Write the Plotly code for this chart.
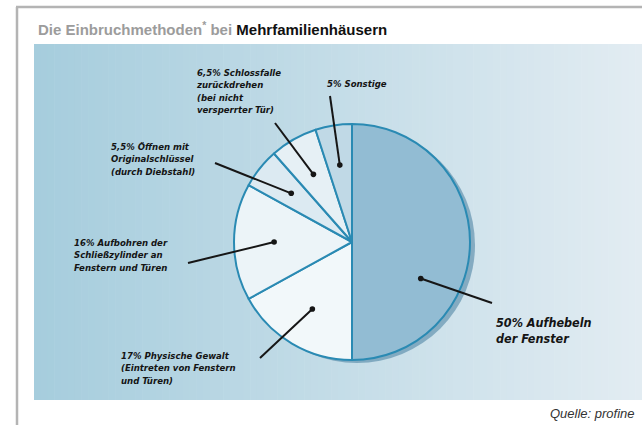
import math
import plotly.graph_objects as go

W, H = 642, 425

# ---- data ----
slice_names = ["Aufhebeln der Fenster", "Physische Gewalt", "Aufbohren der Schließzylinder",
               "Öffnen mit Originalschlüssel", "Schlossfalle zurückdrehen", "Sonstige"]
values = [50, 17, 16, 5.5, 6.5, 5]
label_lines = [
    ["50% Aufhebeln", "der Fenster"],
    ["17% Physische Gewalt", "(Eintreten von Fenstern", "und Türen)"],
    ["16% Aufbohren der", "Schließzylinder an", "Fenstern und Türen"],
    ["5,5% Öffnen mit", "Originalschlüssel", "(durch Diebstahl)"],
    ["6,5% Schlossfalle", "zurückdrehen", "(bei nicht", "versperrter Tür)"],
    ["5% Sonstige"],
]
title_grey = "Die Einbruchmethoden"
title_black = "Mehrfamilienhäusern"
source = "Quelle: profine"

# ---- style ----
slice_colors = ["#92bcd3", "#f2f8fa", "#ecf4f8", "#dceaf2", "#e6f0f5", "#c0d9e6"]
outline = "#2a8ab3"
cx, cy, R = 352, 242, 118          # pie centre / radius in px
dot_angle_shift = [28, 0, 0, 0, 0, 0]
dot_rfrac = 0.66
# label-side end of leader lines (px), first-line label anchors (px)
line_ends = [(492, 303), (260, 358), (188, 263), (215, 163), (275, 123), (330, 96)]
text_pos = [(494, 322), (119, 356), (72, 243), (109, 147), (194, 72), (325, 83)]
text_size = [12.5, 9.5, 9.5, 9.5, 9.5, 9.5]
LABEL_FONT = "DejaVu Sans Condensed, DejaVu Sans, Liberation Sans, sans-serif"

px = lambda x: x / W
py = lambda y: 1 - y / H

fig = go.Figure()
shapes = []
annotations = []

# frame
shapes.append(dict(type="line", xref="paper", yref="paper", x0=px(16), x1=px(642), y0=py(7), y1=py(7),
                   line=dict(color="#b4b4b4", width=2.5), layer="below"))
shapes.append(dict(type="line", xref="paper", yref="paper", x0=px(17), x1=px(17), y0=py(7), y1=py(425),
                   line=dict(color="#b4b4b4", width=2.5), layer="below"))

# gradient panel
x0p, x1p, y0p, y1p = 34, 642, 44, 400
c0 = (166, 205, 221)
c1 = (226, 236, 242)
n = 90
for i in range(n):
    t = i / (n - 1)
    c = tuple(int(round(c0[k] + (c1[k] - c0[k]) * t)) for k in range(3))
    xa = x0p + (x1p - x0p) * i / n
    xb = x0p + (x1p - x0p) * (i + 1) / n + 0.6
    shapes.append(dict(type="rect", xref="paper", yref="paper", x0=px(xa), x1=px(min(xb, 642)),
                       y0=py(y1p), y1=py(y0p), line=dict(width=0), fillcolor="rgb(%d,%d,%d)" % c,
                       layer="below"))

# pie shadow
shapes.append(dict(type="circle", xref="paper", yref="paper",
                   x0=px(cx - R + 5), x1=px(cx + R + 5), y0=py(cy + R + 3), y1=py(cy - R + 3),
                   fillcolor="rgba(70,125,158,0.55)", line=dict(width=0), layer="below"))

fig.add_trace(go.Pie(
    values=values, labels=slice_names, sort=False, direction="clockwise", rotation=0,
    textinfo="none", hoverinfo="label+percent",
    marker=dict(colors=slice_colors, line=dict(color=outline, width=2)),
    domain=dict(x=[px(cx - R), px(cx + R)], y=[py(cy + R), py(cy - R)]),
    showlegend=False,
))

# leader lines, dots and labels computed from data
total = sum(values)
cum = 0
for i, v in enumerate(values):
    mid = (cum + v / 2) / total * 360 + dot_angle_shift[i]
    cum += v
    a = math.radians(mid)
    dx = cx + dot_rfrac * R * math.sin(a)
    dy = cy - dot_rfrac * R * math.cos(a)
    ex, ey = line_ends[i]
    shapes.append(dict(type="line", xref="paper", yref="paper", x0=px(dx), y0=py(dy), x1=px(ex), y1=py(ey),
                       line=dict(color="#161616", width=2), layer="above"))
    rr = 2.8
    shapes.append(dict(type="circle", xref="paper", yref="paper", x0=px(dx - rr), x1=px(dx + rr),
                       y0=py(dy + rr), y1=py(dy - rr), fillcolor="#161616", line=dict(width=0),
                       layer="above"))
    tx, ty = text_pos[i]
    nl = len(label_lines[i])
    gap = 1.3 * text_size[i]
    annotations.append(dict(xref="paper", yref="paper", x=px(tx), y=py(ty + (nl - 1) * gap / 2),
                            xanchor="left", yanchor="middle", align="left", showarrow=False,
                            text="<br>".join("<b><i>%s</i></b>" % ln for ln in label_lines[i]),
                            font=dict(family=LABEL_FONT, size=text_size[i], color="#141414")))

# title
annotations.append(dict(
    xref="paper", yref="paper", x=px(36), y=py(28), xanchor="left", yanchor="middle", showarrow=False,
    text="<b><span style='color:#9c9c9c'>%s</span><sup style='color:#9c9c9c'>*</sup>"
         "<span style='color:#9c9c9c'> bei </span>%s</b>" % (title_grey, title_black),
    font=dict(family="Liberation Sans, Arial, sans-serif", size=15, color="#111111")))

# source
annotations.append(dict(
    xref="paper", yref="paper", x=px(637), y=py(413), xanchor="right", yanchor="middle", showarrow=False,
    text="<i>%s</i>" % source,
    font=dict(family="Liberation Sans, Arial, sans-serif", size=13, color="#333333")))

fig.update_layout(
    width=W, height=H, margin=dict(l=0, r=0, t=0, b=0),
    paper_bgcolor="white", plot_bgcolor="white",
    shapes=shapes, annotations=annotations, showlegend=False,
)
fig.write_html("out.html", config={"displayModeBar": False},
               post_script="document.body.style.margin='0';document.body.style.overflow='hidden';")
